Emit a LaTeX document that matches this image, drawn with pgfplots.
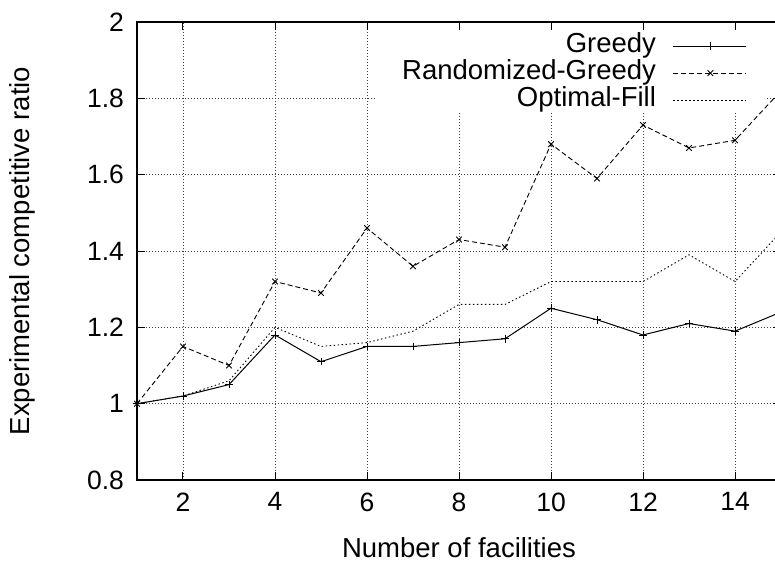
\documentclass[border=0pt]{standalone}
\usepackage{fontspec}
\setmainfont{Liberation Sans}
\usepackage{pgfplots}
\pgfplotsset{compat=1.18}
\begin{document}
\begin{tikzpicture}[font=\fontsize{26.5pt}{30pt}\selectfont]
\begin{axis}[
  scale only axis, width=644pt, height=458pt,
  xmin=1, xmax=15, ymin=0.8, ymax=2,
  xtick={2,4,6,8,10,12,14},
  ytick={0.8,1,1.2,1.4,1.6,1.8,2},
  yticklabels={0.8,1,1.2,1.4,1.6,1.8,2},
  /pgf/number format/assume math mode=true,
  tick label style={font=\fontsize{26.5pt}{30pt}\selectfont},
  label style={font=\fontsize{27.5pt}{32pt}\selectfont},
  xticklabel style={yshift=-9pt},
  yticklabel style={xshift=-9.5pt},
  tick align=inside,
  major tick length=8pt,
  every tick/.style={black, line width=1pt},
  axis line style={black, line width=1.2pt},
  grid=major,
  major grid style={black!75, line width=0.6pt, dash pattern=on 1pt off 2pt},
  xlabel={Number of facilities},
  ylabel={Experimental competitive ratio},
  xlabel style={at={(axis description cs:0.5,-0.1485)}, anchor=center},
  ylabel style={at={(axis description cs:-0.1777,0.5)}, anchor=center},
  legend cell align=right,
  legend plot pos=right,
  legend image code/.code={\draw[mark repeat=2,mark phase=2,#1] plot coordinates {(0pt,0pt) (37pt,0pt) (73pt,0pt)};},
  legend style={at={(axis cs:14.26,1.9696)}, anchor=north east, draw=none, fill=none,
    inner sep=0pt, outer sep=0pt, row sep=2pt, /tikz/column sep=17pt,
    nodes={inner sep=0pt, text height=19pt, text depth=6pt},
    font=\fontsize{27.5pt}{32pt}\selectfont},
]
\fill[white] (axis cs:6.17,1.762) rectangle (axis cs:14.65,1.975);
\addplot[black, line width=1pt, mark=+, mark size=3.8pt, mark options={solid, line width=0.9pt}]
  coordinates {(1,1.00)(2,1.02)(3,1.05)(4,1.18)(5,1.11)(6,1.15)(7,1.15)(8,1.16)(9,1.17)(10,1.25)(11,1.22)(12,1.18)(13,1.21)(14,1.19)(15,1.24)};
\addlegendentry{Greedy}
\addplot[black, line width=0.9pt, dash pattern=on 5pt off 3pt, mark=x, mark size=4pt, mark options={solid, line width=0.9pt}]
  coordinates {(1,1.00)(2,1.15)(3,1.10)(4,1.32)(5,1.29)(6,1.46)(7,1.36)(8,1.43)(9,1.41)(10,1.68)(11,1.59)(12,1.73)(13,1.67)(14,1.69)(15,1.82)};
\addlegendentry{Randomized-Greedy}
\addplot[black, line width=0.9pt, dash pattern=on 1.5pt off 2.5pt]
  coordinates {(1,1.00)(2,1.02)(3,1.06)(4,1.20)(5,1.15)(6,1.16)(7,1.19)(8,1.26)(9,1.26)(10,1.32)(11,1.32)(12,1.32)(13,1.39)(14,1.32)(15,1.45)};
\addlegendentry{Optimal-Fill}
\end{axis}
\pgfresetboundingbox
\path[use as bounding box] ([xshift=-137pt,yshift=-83pt]current axis.south west) rectangle ([xshift=638pt,yshift=22pt]current axis.north west);
\end{tikzpicture}
\end{document}
